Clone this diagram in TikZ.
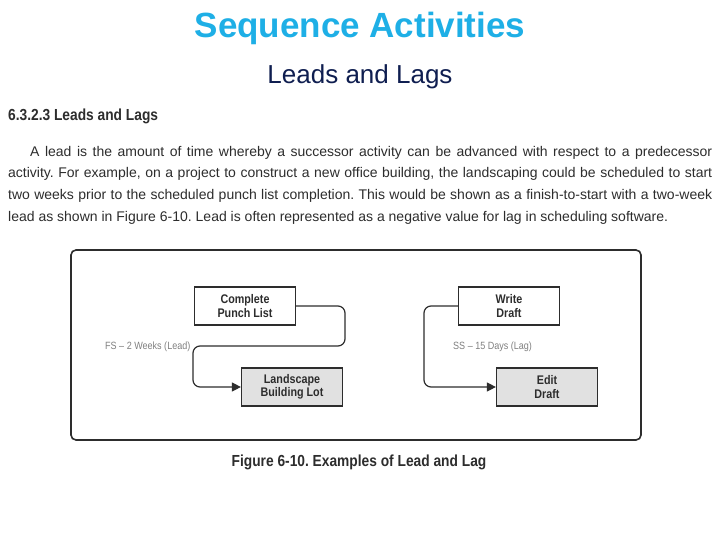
\documentclass[tikz,border=0pt]{standalone}
\usepackage{fontspec}
\setmainfont{Liberation Sans}
\newfontfamily\narrow[FakeStretch=0.86]{Liberation Sans}
\usetikzlibrary{arrows.meta}
\definecolor{titleblue}{RGB}{30,175,230}
\definecolor{navy}{RGB}{15,30,80}
\definecolor{txt}{RGB}{45,45,45}
\definecolor{boxgray}{RGB}{225,225,225}
\begin{document}
\frenchspacing
\begin{tikzpicture}[x=1pt,y=-1pt,
  act/.style={draw=txt,line width=1.2pt,minimum width=101pt,minimum height=38pt,align=center,font=\narrow\bfseries\fontsize{12.5}{13.5}\selectfont,text=txt,inner sep=0pt},
  conn/.style={draw=txt,line width=1.2pt,rounded corners=7pt,-{Triangle[length=9pt,width=9pt]}},
  lab/.style={font=\narrow\fontsize{10.5}{11}\selectfont,text=gray,anchor=west,inner sep=0pt},
  para/.style={anchor=west,inner sep=0pt,font=\fontsize{14}{16}\selectfont,text=txt}]
\useasboundingbox (0,0) rectangle (720,540);
\fill[white] (0,0) rectangle (720,540);
\node[font=\bfseries\fontsize{35}{37}\selectfont,text=titleblue] (t1) at (360,28) {Sequence Activities};
\node[font=\fontsize{26}{28}\selectfont,text=navy] (t2) at (360,77) {Leads and Lags};
\node[anchor=west,inner sep=0pt,font=\narrow\bfseries\fontsize{16}{17}\selectfont,text=txt] (h) at (8,116) {6.3.2.3 Leads and Lags};
\node[para] (p1) at (30,153) {\parbox{682pt}{\parfillskip=0pt A lead is the amount of time whereby a successor activity can be advanced with respect to a predecessor}};
\node[para] (p2) at (8,174) {\parbox{704pt}{\parfillskip=0pt activity. For example, on a project to construct a new office building, the landscaping could be scheduled to start}};
\node[para] (p3) at (8,196) {\parbox{704pt}{\parfillskip=0pt two weeks prior to the scheduled punch list completion. This would be shown as a finish-to-start with a two-week}};
\node[para] (p4) at (8,218) {lead as shown in Figure 6-10. Lead is often represented as a negative value for lag in scheduling software.};
\node[draw=txt,line width=1.6pt,rounded corners=5pt,minimum width=570pt,minimum height=190pt,inner sep=0pt] (frame) at (356,345) {};
\node[act,fill=white] (a) at (245,306) {Complete\\Punch List};
\node[act,fill=boxgray] (b) at (292,387) {Landscape\\Building Lot};
\node[act,fill=white] (c) at (509,306) {Write\\Draft};
\node[act,fill=boxgray] (d) at (547,387) {Edit\\Draft};
\draw[conn] (a.east) -| (345,346) -| (193,387) -- (b.west);
\draw[conn] (c.west) -| (424,387) -- (d.west);
\node[lab] (l1) at (105,347) {FS – 2 Weeks (Lead)};
\node[lab] (l2) at (453,347) {SS – 15 Days (Lag)};
\node[font=\narrow\bfseries\fontsize{16}{17}\selectfont,text=txt] (cap) at (359,462) {Figure 6-10. Examples of Lead and Lag};
\end{tikzpicture}
\end{document}
